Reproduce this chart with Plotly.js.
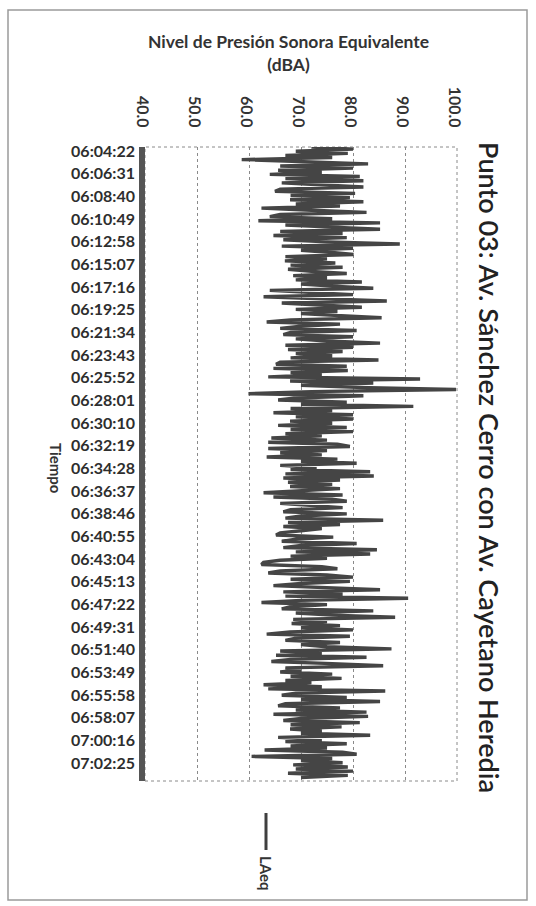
<!DOCTYPE html>
<html>
<head>
<meta charset="utf-8">
<script src="https://cdn.plot.ly/plotly-3.0.1.min.js"></script>
<style>
  html, body { margin: 0; padding: 0; background: #ffffff; }
  #chart { width: 536px; height: 906px; }
</style>
</head>
<body>
<div id="chart"></div>
<script>
// ---- data ----
const chartTitle = "Punto 03: Av. Sánchez Cerro con Av. Cayetano Heredia";
const valueAxisTitle = "Nivel de Presión Sonora Equivalente<br>(dBA)";
const timeAxisTitle = "Tiempo";
const seriesName = "LAeq";
const startTime = "06:04:22";
const stepSeconds = 12;
const timeLabels = [
  "06:04:22","06:06:31","06:08:40","06:10:49","06:12:58","06:15:07","06:17:16",
  "06:19:25","06:21:34","06:23:43","06:25:52","06:28:01","06:30:10","06:32:19",
  "06:34:28","06:36:37","06:38:46","06:40:55","06:43:04","06:45:13","06:47:22",
  "06:49:31","06:51:40","06:53:49","06:55:58","06:58:07","07:00:16","07:02:25"
];
const laeqPart1 = [72,80,69,79,67,76,58.6,70,82.9,66,80,65.6,74,64,81.3,67,82,66.3,76,82,66,65,80.4,68,79.4,67.9,82,69,77.5,62.4,72,82.6,66,64,76,61.8,85.2,67,76,85.2,66,78,64.7,78.8,66.6,75,89,66.3,80];
const laeqPart2 = [70,76,80.1,67,75,66.9,76.6,68,78,67.5,72,78.8,68.5,75,69,81.7,70,76,83.9,64,72,80,62.8,74,86.5,66.3,75,81.7,69,77,70,79,85.5,68,63.4,77.5,70,66,80.7,68,66.6,80,69,75,85.2,67,80,67.5,78,69];
const laeqPart3 = [76,68,84.9,66,65.2,78.8,64.7,79,68,74,63.7,92.9,67.9,83.9,70,80.7,99.8,72,59.9,82,69,65.6,78.8,70,91.6,68,76,64.7,80,69,80,67.9,76,65.6,78.8,68,80,67,74,64.3,75,63.7,77,79.4,63.7,75,66,74,63.4,77];
const laeqPart4 = [70,80.7,66,73,68,83.3,67,84,66.6,77.5,67.5,76,67.9,77.5,70,62.8,78,64.7,76,78.8,66,72,78,68,66.6,78.8,70,67,85.8,67.5,77.5,66.6,74,70,66,65.2,76.2,69,66.3,80.7,70,66.6,84.6,69,83.3,68,75,66,62.8];
const laeqPart5 = [62.4,74,77,66,63.7,75,80,68,79.4,70,64.7,76,85.2,66.6,78,67,90.6,70,62.4,75,68,66.3,83.9,69,76,88.1,68.5,75,68.2,77.5,70,80,67.9,63.4,79.4,69,67,77.5,70,75,87.4,66,74,65.2,82.6,68,64.3,76,85.8,67];
const laeqPart6 = [70,66,76,68,77.8,67,72,62.8,74,63.7,86.2,69,66.3,78.8,70,85.2,67,65.6,77.5,69,82.6,64.7,82.9,70,66.6,81.3,68,77.8,67.9,74,70,83.3,65.6,74,67,78.8,68,75,63,78,80.7,60.5,76,70,78,68.5,79,69,80,67.5,79,70];
const laeq = [].concat(laeqPart1, laeqPart2, laeqPart3, laeqPart4, laeqPart5, laeqPart6);

// ---- build ----
function toSec(s) { const p = s.split(":").map(Number); return p[0]*3600 + p[1]*60 + p[2]; }
const t0 = toSec(startTime);
const times = laeq.map((v, i) => t0 + i * stepSeconds);
const tickVals = timeLabels.map(toSec);

const W = 536, H = 906;
const L = 145, R = 457, T = 147, B = 781;
const px = x => (x - L) / (R - L);
const py = y => (B - y) / (B - T);

const fontFam = "Lato, 'Open Sans', 'Liberation Sans', sans-serif";
const txt = "#333333";

const trace = {
  type: "scatter", mode: "lines", name: seriesName,
  x: laeq, y: times,
  line: { color: "#454545", width: 3.4 },
  showlegend: false, hoverinfo: "skip"
};

const layout = {
  width: W, height: H,
  margin: { l: L, r: W - R, t: T, b: H - B, pad: 0 },
  paper_bgcolor: "#ffffff", plot_bgcolor: "#ffffff",
  showlegend: false,
  xaxis: {
    side: "top", range: [40, 100], tick0: 40, dtick: 10, tickformat: ".1f",
    tickangle: 89.9, ticks: "outside", ticklen: 4, tickcolor: "rgba(0,0,0,0)",
    showgrid: true, gridcolor: "#8a8a8a", griddash: "dot", gridwidth: 1,
    zeroline: false, showline: false,
    tickfont: { family: fontFam, size: 16, color: txt, weight: 700 }
  },
  yaxis: {
    range: [25470, t0], tickmode: "array", tickvals: tickVals, ticktext: timeLabels,
    ticks: "", ticklabelstandoff: 9, ticklabelshift: -4,
    showgrid: false, zeroline: false, showline: false,
    tickfont: { family: fontFam, size: 16, color: "#2e2e2e", weight: 700 }
  },
  shapes: [
    { type: "rect", xref: "paper", yref: "paper", x0: 0, x1: 1, y0: 0, y1: 1,
      line: { color: "#8a8a8a", width: 1, dash: "dot" }, layer: "below" },
    { type: "rect", xref: "paper", yref: "paper", x0: px(139), x1: px(145), y0: 0, y1: 1,
      fillcolor: "#555555", line: { width: 0 } },
    { type: "rect", xref: "paper", yref: "paper", x0: px(8), x1: px(527), y0: py(900), y1: py(10),
      line: { color: "#9a9a9a", width: 1.5 } },
    { type: "line", xref: "paper", yref: "paper", x0: px(266), x1: px(266), y0: py(813), y1: py(850),
      line: { color: "#3f3f3f", width: 3 } }
  ],
  annotations: [
    { text: chartTitle, xref: "paper", yref: "paper", x: px(490), y: py(467),
      xanchor: "center", yanchor: "middle", textangle: 90, showarrow: false,
      font: { family: fontFam, size: 27, color: "#222222", weight: 600 } },
    { text: valueAxisTitle, xref: "paper", yref: "paper", x: px(288), y: py(53),
      xanchor: "center", yanchor: "middle", showarrow: false,
      font: { family: fontFam, size: 17.5, color: txt, weight: 700 } },
    { text: timeAxisTitle, xref: "paper", yref: "paper", x: px(56), y: py(468),
      xanchor: "center", yanchor: "middle", textangle: 90, showarrow: false,
      font: { family: fontFam, size: 15, color: txt, weight: 700 } },
    { text: seriesName, xref: "paper", yref: "paper", x: px(266), y: py(873),
      xanchor: "center", yanchor: "middle", textangle: 90, showarrow: false,
      font: { family: fontFam, size: 15, color: txt, weight: 700 } }
  ]
};

Plotly.newPlot("chart", [trace], layout, { displayModeBar: false, staticPlot: true });
</script>
</body>
</html>
